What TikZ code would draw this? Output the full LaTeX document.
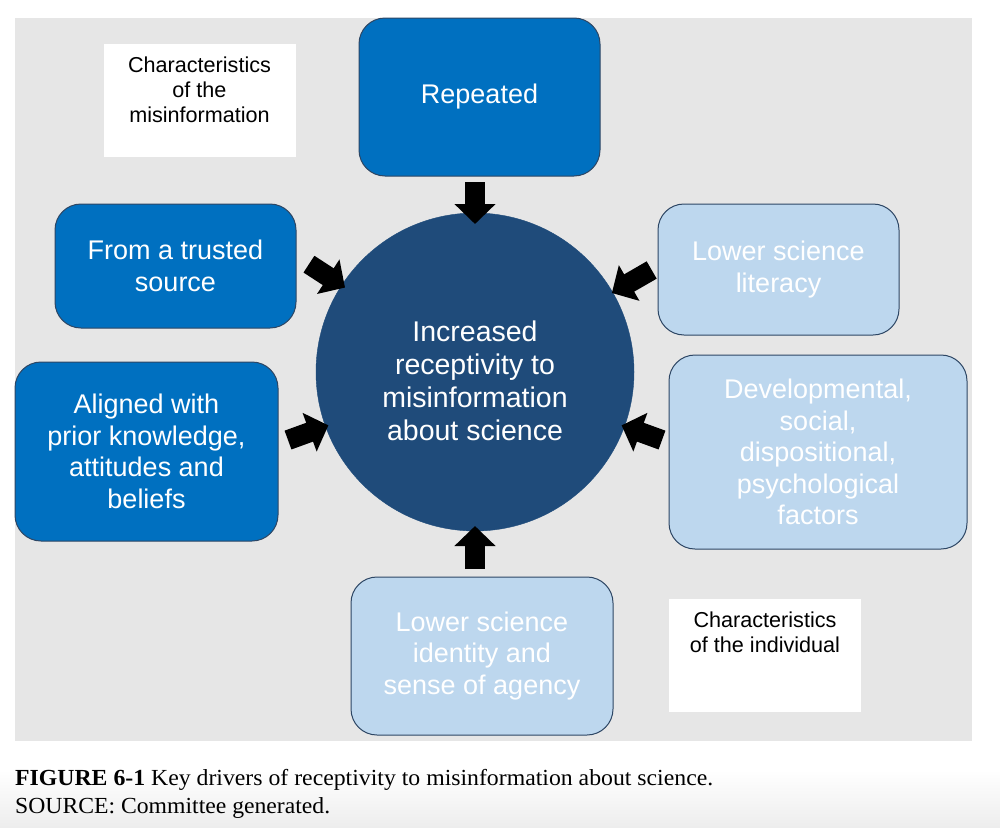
\documentclass[tikz,border=0pt]{standalone}
\usepackage{fontspec}
\setmainfont{Liberation Serif}
\newfontfamily\arial{Liberation Sans}
\usetikzlibrary{arrows.meta,calc}
\definecolor{panelgray}{RGB}{230,230,230}
\definecolor{medblue}{RGB}{0,112,192}
\definecolor{darkblue}{RGB}{31,75,122}
\definecolor{lightblue}{RGB}{189,215,238}
\definecolor{bordercol}{RGB}{45,70,100}
\tikzset{
  factor/.style={rounded corners=26pt, draw=bordercol, line width=1pt, inner sep=0pt,
    align=center, text=white, font=\arial\fontsize{27}{31.5}\selectfont},
  strong/.style={factor, fill=medblue},
  weak/.style={factor, fill=lightblue},
  catbox/.style={fill=white, inner sep=0pt},
  cattext/.style={align=center, inner sep=0pt, anchor=north, text=black, font=\arial\fontsize{21.6}{25}\selectfont},
  blockarr/.style={line width=20pt, -{Triangle[length=20pt,width=40pt]}},
  caption/.style={anchor=base west, inner sep=0pt, font=\fontsize{23}{28}\selectfont}
}
\begin{document}
\begin{tikzpicture}[x=1pt,y=-1pt]
\useasboundingbox (0,0) rectangle (1000,827);
\fill[white] (0,0) rectangle (1000,827);
\shade[top color=white, bottom color=black!7] (0,770) rectangle (1000,827);
\fill[panelgray] (15,18) rectangle (972,741);

% category labels
\node[catbox, minimum width=192pt, minimum height=113pt] (misbox) at (199.5,100.5) {};
\node[cattext] (mistext) at (199.5,56.5) {Characteristics\\of the\\misinformation};
\node[catbox, minimum width=192pt, minimum height=113pt] (indbox) at (765,655.5) {};
\node[cattext] (indtext) at (765,611.5) {Characteristics\\of the individual};

% centre
\node[circle, fill=darkblue, draw=darkblue, minimum size=318pt, inner sep=0pt] (c) at (475,372) {};
\node[align=center, text=white, inner sep=0pt, font=\arial\fontsize{28.5}{33}\selectfont] (ctext) at (475,381) {Increased\\receptivity to\\misinformation\\about science};

% factor boxes
\node[strong, minimum width=241pt, minimum height=158pt, text height=20pt, text depth=8pt] (rep) at (479.5,97) {Repeated};
\node[strong, minimum width=241pt, minimum height=124pt] (trust) at (175.5,266) {From a trusted\\source};
\node[strong, minimum width=263pt, minimum height=179pt] (align) at (146.5,451.5) {Aligned with\\prior knowledge,\\attitudes and\\beliefs};
\node[weak, minimum width=241pt, minimum height=131pt] (lit) at (778.5,269.5) {Lower science\\literacy};
\node[weak, minimum width=298pt, minimum height=194pt] (dev) at (818,452) {Developmental,\\social,\\dispositional,\\psychological\\factors};
\node[weak, minimum width=262pt, minimum height=158pt] (ident) at (482,656) {Lower science\\identity and\\sense of agency};

% arrows
\coordinate (aTopS) at ($(c.center)+(270:190)$);
\coordinate (aTopE) at ($(c.center)+(270:148)$);
\coordinate (aBotS) at ($(c.center)+(90:197)$);
\coordinate (aBotE) at ($(c.center)+(90:154)$);
\coordinate (aULS) at ($(c.center)+(213:198)$);
\coordinate (aULE) at ($(c.center)+(213:155)$);
\coordinate (aURS) at ($(c.center)+(330:204)$);
\coordinate (aURE) at ($(c.center)+(330:158)$);
\coordinate (aLRS) at ($(c.center)+(20:199)$);
\coordinate (aLRE) at ($(c.center)+(20:156)$);
\coordinate (aLLS) at ($(c.center)+(160:199)$);
\coordinate (aLLE) at ($(c.center)+(160:156)$);
\draw[blockarr] (aTopS) -- (aTopE);
\draw[blockarr] (aBotS) -- (aBotE);
\draw[blockarr] (aULS) -- (aULE);
\draw[blockarr] (aURS) -- (aURE);
\draw[blockarr] (aLRS) -- (aLRE);
\draw[blockarr] (aLLS) -- (aLLE);

% caption
\node[caption] (cap1) at (15,785) {\resizebox{698pt}{\height}{\textbf{FIGURE 6-1} Key drivers of receptivity to misinformation about science.}};
\node[caption] (cap2) at (15,813) {\resizebox{315pt}{\height}{SOURCE: Committee generated.}};
\end{tikzpicture}
\end{document}
